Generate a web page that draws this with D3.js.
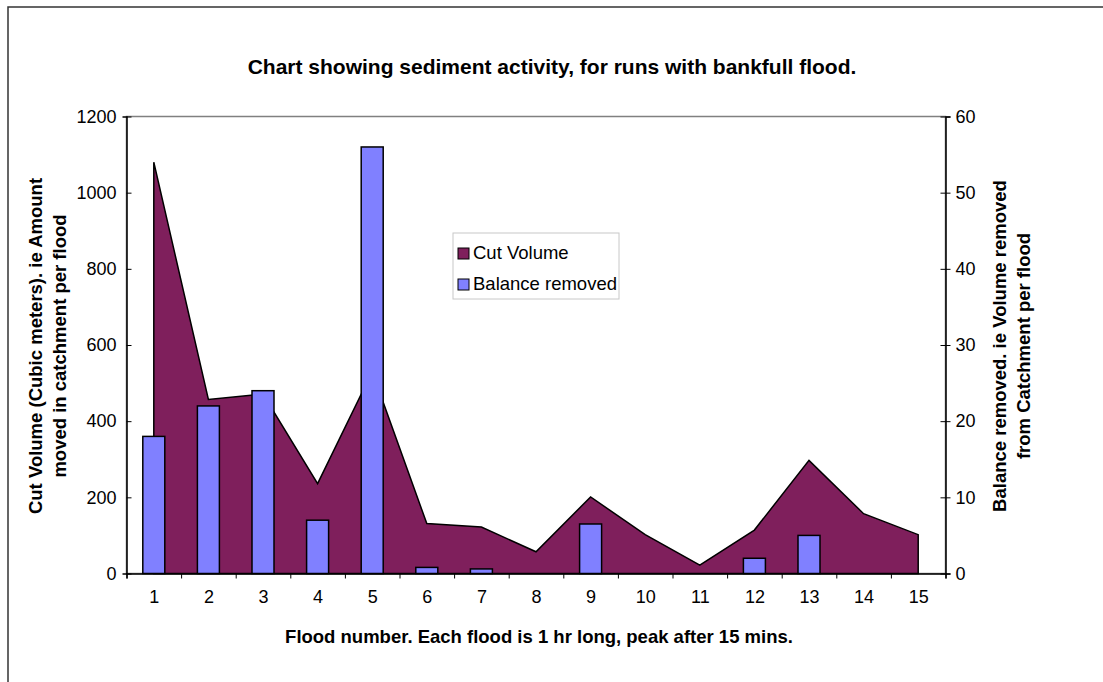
<!DOCTYPE html>
<html>
<head>
<meta charset="utf-8">
<script src="https://cdn.jsdelivr.net/npm/d3@7"></script>
<style>
  html, body { margin: 0; padding: 0; background: #fff; }
  svg { display: block; font-family: "Liberation Sans", Arial, sans-serif; }
</style>
</head>
<body>
<svg id="chart" width="1103" height="682"></svg>
<script>
// ---- data ----
const floods = [1, 2, 3, 4, 5, 6, 7, 8, 9, 10, 11, 12, 13, 14, 15];
const cutVolume = [1080, 457, 471, 236, 530, 131, 122, 57, 201, 102, 22, 114, 297, 157, 102];
const balanceRemoved = [18, 22, 24, 7, 56, 0.8, 0.6, 0, 6.5, 0, 0, 2, 5, 0, 0];
const leftTicks = [0, 200, 400, 600, 800, 1000, 1200];
const rightTicks = [0, 10, 20, 30, 40, 50, 60];
const titleText = "Chart showing sediment activity, for runs with bankfull flood.";
const xTitleText = "Flood number. Each flood is 1 hr long, peak after 15 mins.";
const yLeftTitle = ["Cut Volume (Cubic meters). ie Amount", "moved in catchment per flood"];
const yRightTitle = ["Balance removed. ie Volume removed", "from Catchment per flood"];
const seriesNames = ["Cut Volume", "Balance removed"];

// ---- layout ----
const svg = d3.select("#chart");
const L = 126.5, R = 945.5, T = 116.5, B = 573.5;
const areaColor = "#7f1f5c", barColor = "#8080ff";
const FONT = "'Liberation Sans', Arial, sans-serif";

// outer border
svg.append("rect").attr("x", 8).attr("y", 7).attr("width", 1200).attr("height", 800)
  .attr("fill", "none").attr("stroke", "#333").attr("stroke-width", 1.5);

const xLin = d3.scaleLinear().domain([0.5, 15.5]).range([L, R]);
const yL = d3.scaleLinear().domain([0, 1200]).range([B, T]);
const yR = d3.scaleLinear().domain([0, 60]).range([B, T]);

// plot area border (gray)
svg.append("rect").attr("x", L).attr("y", T).attr("width", R - L).attr("height", B - T)
  .attr("fill", "none").attr("stroke", "#808080").attr("stroke-width", 1.5);

// area series
const area = d3.area().x((d, i) => xLin(floods[i])).y0(yL(0)).y1(d => yL(d));
svg.append("path").datum(cutVolume).attr("d", area)
  .attr("fill", areaColor).attr("stroke", "#000").attr("stroke-width", 1.5)
  .attr("stroke-linejoin", "miter");

// bars
const bw = 22;
const barData = floods.map((f, i) => ({ f, v: balanceRemoved[i] })).filter(d => d.v > 0);
svg.append("g").selectAll("rect").data(barData).join("rect")
  .attr("x", d => xLin(d.f) - bw / 2)
  .attr("y", d => yR(d.v))
  .attr("width", bw)
  .attr("height", d => yR(0) - yR(d.v))
  .attr("fill", barColor).attr("stroke", "#000").attr("stroke-width", 1.5);

// axes
const fontSize = 18;
const gl = svg.append("g").attr("transform", `translate(${L},0)`)
  .call(d3.axisLeft(yL).tickValues(leftTicks).tickSize(4).tickPadding(6).tickFormat(d3.format("d")));
gl.selectAll(".tick line").attr("x2", 5);
const gr = svg.append("g").attr("transform", `translate(${R},0)`)
  .call(d3.axisRight(yR).tickValues(rightTicks).tickSize(5).tickPadding(5).tickFormat(d3.format("d")));
gr.selectAll(".tick line").attr("x1", -5);
const gb = svg.append("g").attr("transform", `translate(0,${B})`)
  .call(d3.axisBottom(xLin).tickValues(d3.range(0.5, 16, 1)).tickSize(5).tickFormat(""));
const gbl = svg.append("g").attr("transform", `translate(0,${B})`)
  .call(d3.axisBottom(xLin).tickValues(floods).tickSize(0).tickPadding(17).tickFormat(d3.format("d")));
gbl.select(".domain").remove();

[gl, gr, gb, gbl].forEach(g => {
  g.attr("font-size", fontSize).attr("font-family", FONT);
  g.selectAll("text").attr("font-size", fontSize).attr("fill", "#000");
  g.selectAll("line").attr("stroke", "#000");
  g.select(".domain").attr("stroke", "#000").attr("stroke-width", 1.5);
});

// titles
svg.append("text").attr("x", 552).attr("y", 74).attr("text-anchor", "middle")
  .attr("font-size", 21).attr("font-weight", "bold").text(titleText);
svg.append("text").attr("x", 539).attr("y", 643).attr("text-anchor", "middle")
  .attr("font-size", 18.5).attr("font-weight", "bold").text(xTitleText);

const ylt = svg.append("text").attr("transform", "translate(42,346) rotate(-90)")
  .attr("text-anchor", "middle").attr("font-size", 18.5).attr("font-weight", "bold");
yLeftTitle.forEach((t, i) => ylt.append("tspan").attr("x", 0).attr("dy", i === 0 ? 0 : 24).text(t));
const yrt = svg.append("text").attr("transform", "translate(1006,346) rotate(-90)")
  .attr("text-anchor", "middle").attr("font-size", 18.5).attr("font-weight", "bold");
yRightTitle.forEach((t, i) => yrt.append("tspan").attr("x", 0).attr("dy", i === 0 ? 0 : 24).text(t));

// legend
const lg = svg.append("g").attr("transform", "translate(453,233)");
lg.append("rect").attr("width", 166).attr("height", 66).attr("fill", "#fff")
  .attr("stroke", "#c8c8c8").attr("stroke-width", 1);
const colors = [areaColor, barColor];
seriesNames.forEach((n, i) => {
  const yy = 20 + i * 31;
  lg.append("rect").attr("x", 5).attr("y", yy - 5).attr("width", 11).attr("height", 11)
    .attr("fill", colors[i]).attr("stroke", "#000").attr("stroke-width", 1);
  lg.append("text").attr("x", 20).attr("y", yy + 6).attr("font-size", 18.5).text(n);
});
</script>
</body>
</html>
